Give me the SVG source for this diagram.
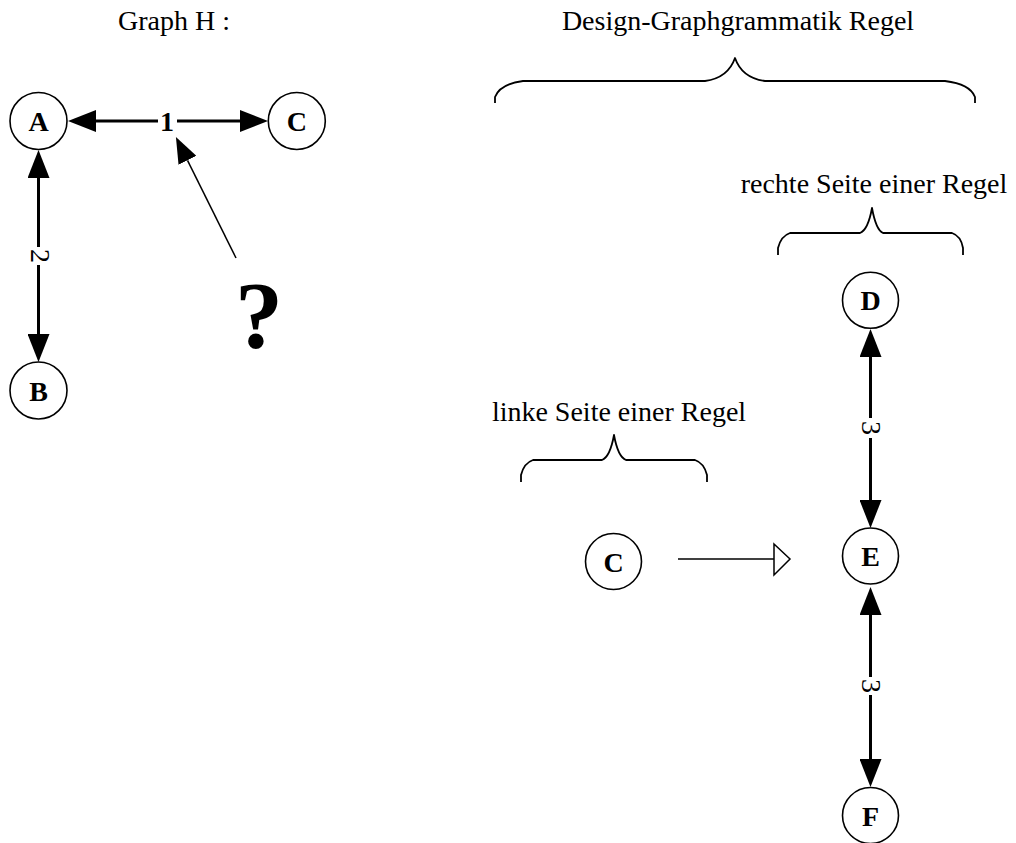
<svg xmlns="http://www.w3.org/2000/svg" width="1016" height="843" viewBox="0 0 1016 843">
<style>
  .node circle { fill: #fff; stroke: #000; stroke-width: 1.6; }
  .node text { font-family: "Liberation Serif", "Times New Roman", serif; font-weight: bold; font-size: 28px; text-anchor: middle; fill: #000; }
  .title { font-family: "Liberation Serif", "Times New Roman", serif; font-size: 28px; text-anchor: middle; fill: #000; }
  .edge { fill: none; stroke: #000; stroke-width: 3; marker-end: url(#head); }
  .thin { fill: none; stroke: #000; stroke-width: 1.5; }
  .lbl { font-family: "Liberation Serif", "Times New Roman", serif; font-size: 28px; text-anchor: middle; fill: #000; }
  .brace { fill: none; stroke: #000; stroke-width: 1.8; stroke-linejoin: round; }
</style>
<defs>
  <marker id="head" markerUnits="userSpaceOnUse" markerWidth="28" markerHeight="22" refX="0" refY="11" orient="auto" viewBox="0 0 28 22">
    <path d="M0,0 L28,11 L0,22 Z" fill="#000"/>
  </marker>
  <marker id="headThin" markerUnits="userSpaceOnUse" markerWidth="26" markerHeight="20" refX="0" refY="10" orient="auto" viewBox="0 0 26 20">
    <path d="M0,0 L26,10 L0,20 Z" fill="#000"/>
  </marker>
</defs>
<rect width="1016" height="843" fill="#fff"/>

<g id="titles">
  <text class="title" x="174" y="30">Graph H :</text>
  <text class="title" x="738" y="30">Design-Graphgrammatik Regel</text>
  <text class="title" x="874" y="193">rechte Seite einer Regel</text>
  <text class="title" x="619" y="421">linke Seite einer Regel</text>
</g>

<g id="braces">
  <path class="brace" d="M495,103 L495,97 Q500,84 523,81 L705,81 Q728,78 735,58 Q742,78 765,81 L945,81 Q970,84 975,97 L975,103"/>
  <path class="brace" d="M778,255 L778,248 Q781,236 790,233 L860,233 Q868,230 872,208 Q876,230 883,233 L952,233 Q961,236 963,248 L963,255"/>
  <path class="brace" d="M521,482 L521,475 Q524,463 533,460 L602,460 Q610,457 614,435 Q618,457 626,460 L695,460 Q704,463 707,475 L707,482"/>
</g>

<g id="connectors">
  <path class="edge" d="M158,121 L96,121"/>
  <path class="edge" d="M177,121 L240,121"/>
  <text class="lbl" font-weight="bold" x="167" y="131">1</text>

  <path class="edge" d="M38.5,247 L38.5,178"/>
  <path class="edge" d="M38.5,265 L38.5,334"/>
  <text class="lbl" transform="translate(30.5,256) rotate(90)">2</text>

  <path class="edge" d="M870.5,418 L870.5,357"/>
  <path class="edge" d="M870.5,438 L870.5,500"/>
  <text class="lbl" transform="translate(862,428) rotate(90)">3</text>

  <path class="edge" d="M870.5,677 L870.5,615"/>
  <path class="edge" d="M870.5,695 L870.5,759"/>
  <text class="lbl" transform="translate(862,686) rotate(90)">3</text>

  <path class="thin" d="M236,258 L187.5,160.3" marker-end="url(#headThin)"/>

  <path class="thin" d="M678,559 L774,559"/>
  <path class="thin" d="M774,544 L790,559 L774,575 Z" fill="#fff"/>
</g>

<text id="question" x="259" y="348" font-family="'Liberation Serif', 'Times New Roman', serif" font-weight="bold" font-size="96" text-anchor="middle">?</text>

<g id="node-A" class="node"><circle cx="38.5" cy="121" r="28.5"/><text x="38.5" y="131">A</text></g>
<g id="node-B" class="node"><circle cx="38.5" cy="390.5" r="28.5"/><text x="38.5" y="400.5">B</text></g>
<g id="node-C" class="node"><circle cx="296.8" cy="121" r="28.5"/><text x="296.8" y="131">C</text></g>
<g id="node-D" class="node"><circle cx="870.5" cy="300.3" r="28"/><text x="870.5" y="310.3">D</text></g>
<g id="node-E" class="node"><circle cx="870.5" cy="556" r="28"/><text x="870.5" y="566">E</text></g>
<g id="node-F" class="node"><circle cx="870.5" cy="815.5" r="28"/><text x="870.5" y="825.5">F</text></g>
<g id="node-C2" class="node"><circle cx="613.5" cy="561.5" r="28"/><text x="613.5" y="571.5">C</text></g>
</svg>
